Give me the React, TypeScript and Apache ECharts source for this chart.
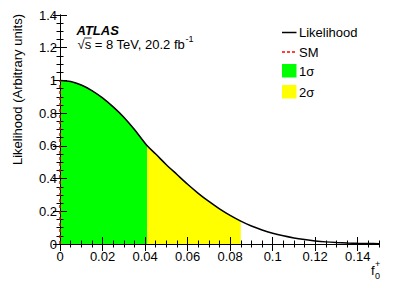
import React, { useEffect, useRef } from "react";
import * as echarts from "echarts";

const xValues = [
  0, 0.005, 0.01, 0.015, 0.02, 0.025, 0.03, 0.035, 0.041, 0.045, 0.05, 0.055,
  0.06, 0.065, 0.07, 0.075, 0.08, 0.085, 0.09, 0.095, 0.1, 0.105, 0.11, 0.115,
  0.12, 0.125, 0.13, 0.135, 0.14, 0.145, 0.15,
];
const likelihood = [
  1.0, 0.993, 0.972, 0.938, 0.893, 0.838, 0.775, 0.7, 0.6, 0.55, 0.485, 0.425,
  0.365, 0.31, 0.26, 0.215, 0.175, 0.14, 0.11, 0.086, 0.066, 0.05, 0.037, 0.027,
  0.019, 0.013, 0.009, 0.006, 0.004, 0.003, 0.002,
];
const oneSigmaMax = 0.041;
const twoSigmaMax = 0.085;
const smX = [0, 0];
const smY = [0, 1];
const xMajorTicks = [0, 0.02, 0.04, 0.06, 0.08, 0.1, 0.12, 0.14];
const yMajorTicks = [0, 0.2, 0.4, 0.6, 0.8, 1, 1.2, 1.4];
const legendLabels = ["Likelihood", "SM", "1σ", "2σ"];

const FONT = "Liberation Sans, Arial, Helvetica, sans-serif";

function minorList(max: number, step: number, major: number) {
  const out: number[] = [];
  for (let i = 0; i * step <= max + 1e-9; i++) {
    const v = +(i * step).toFixed(4);
    if (Math.abs(v / major - Math.round(v / major)) > 1e-6) out.push(v);
  }
  return out;
}

export default function App() {
  const ref = useRef<HTMLDivElement>(null);
  useEffect(() => {
    if (!ref.current) return;
    document.body.style.margin = "0";
    const chart = echarts.init(ref.current, null, { renderer: "svg" });
    const pts = xValues.map((x, i) => [x, likelihood[i]]);
    const green = pts.filter((p) => p[0] <= oneSigmaMax + 1e-9);
    const yellow = pts.filter((p) => p[0] >= oneSigmaMax - 1e-9 && p[0] <= twoSigmaMax + 1e-9);
    const xMinor = minorList(0.15, 0.005, 0.02);
    const yMinor = minorList(1.4, 0.05, 0.2);

    const canvas = document.createElement("canvas");
    const ctx = canvas.getContext("2d")!;
    ctx.font = "13px " + FONT;
    const mainText = "√s = 8 TeV, 20.2 fb";
    const mainW = ctx.measureText(mainText).width;
    const sqrtW = ctx.measureText("√").width;
    const sW = ctx.measureText("s").width;
    const fW = ctx.measureText("f").width;
    const textX = 77.5;

    const axisLine = { show: true, lineStyle: { color: "#000", width: 1 } };
    const baseX = { type: "value", min: 0, max: 0.15, gridIndex: 0, z: 10 };
    const baseY = { type: "value", min: 0, max: 1.4, gridIndex: 0, z: 10 };

    chart.setOption({
      animation: false,
      grid: { left: 60, right: 20, top: 15, bottom: 44 },
      xAxis: [
        {
          ...baseX,
          position: "bottom",
          interval: 0.02,
          axisLine,
          splitLine: { show: false },
          axisTick: { show: true, inside: true, length: 7, lineStyle: { color: "#000" }, customValues: xMajorTicks },
          axisLabel: {
            show: true,
            margin: 6,
            color: "#000",
            fontSize: 13,
            fontFamily: FONT,
            customValues: xMajorTicks,
            formatter: (v: number) => String(+v.toFixed(2)),
          },
        },
        {
          ...baseX,
          position: "bottom",
          axisLine: { show: false },
          splitLine: { show: false },
          axisLabel: { show: false },
          axisTick: { show: true, inside: true, length: 3.5, lineStyle: { color: "#000" }, customValues: xMinor },
        },
        {
          ...baseX,
          position: "top",
          axisLine,
          splitLine: { show: false },
          axisLabel: { show: false },
          axisTick: { show: true, inside: true, length: 7, lineStyle: { color: "#000" }, customValues: xMajorTicks },
        },
        {
          ...baseX,
          position: "top",
          axisLine: { show: false },
          splitLine: { show: false },
          axisLabel: { show: false },
          axisTick: { show: true, inside: true, length: 3.5, lineStyle: { color: "#000" }, customValues: xMinor },
        },
      ],
      yAxis: [
        {
          ...baseY,
          position: "left",
          interval: 0.2,
          axisLine,
          splitLine: { show: false },
          axisTick: { show: true, inside: true, length: 7, lineStyle: { color: "#000" }, customValues: yMajorTicks },
          axisLabel: {
            show: true,
            margin: 3,
            color: "#000",
            fontSize: 13,
            fontFamily: FONT,
            customValues: yMajorTicks,
            formatter: (v: number) => String(+v.toFixed(1)),
          },
        },
        {
          ...baseY,
          position: "left",
          axisLine: { show: false },
          splitLine: { show: false },
          axisLabel: { show: false },
          axisTick: { show: true, inside: true, length: 3.5, lineStyle: { color: "#000" }, customValues: yMinor },
        },
        {
          ...baseY,
          position: "right",
          axisLine,
          splitLine: { show: false },
          axisLabel: { show: false },
          axisTick: { show: true, inside: true, length: 7, lineStyle: { color: "#000" }, customValues: yMajorTicks },
        },
        {
          ...baseY,
          position: "right",
          axisLine: { show: false },
          splitLine: { show: false },
          axisLabel: { show: false },
          axisTick: { show: true, inside: true, length: 3.5, lineStyle: { color: "#000" }, customValues: yMinor },
        },
      ],
      series: [
        {
          name: "1σ",
          type: "line",
          data: green,
          symbol: "none",
          lineStyle: { width: 0 },
          areaStyle: { color: "#00ff00", opacity: 1 },
          z: 2,
        },
        {
          name: "2σ",
          type: "line",
          data: yellow,
          symbol: "none",
          lineStyle: { width: 0 },
          areaStyle: { color: "#ffff00", opacity: 1 },
          z: 2,
        },
        {
          name: "Likelihood",
          type: "line",
          data: pts,
          symbol: "none",
          smooth: 0.3,
          lineStyle: { color: "#000", width: 1.5 },
          z: 3,
        },
        {
          name: "SM",
          type: "line",
          data: smX.map((x, i) => [x, smY[i]]),
          symbol: "none",
          clip: false,
          lineStyle: { color: "#ff0000", width: 1.5, type: [3, 3] },
          z: 11,
        },
      ],
      graphic: [
        {
          type: "text",
          x: 17,
          y: 14,
          rotation: Math.PI / 2,
          style: {
            text: "Likelihood (Arbitrary units)",
            font: "13px " + FONT,
            fill: "#000",
            align: "right",
            verticalAlign: "middle",
          },
        },
        {
          type: "text",
          x: textX - 1,
          y: 30.5,
          style: {
            text: "ATLAS",
            font: "italic bold 13px " + FONT,
            fill: "#000",
            align: "left",
            verticalAlign: "middle",
          },
        },
        {
          type: "text",
          x: textX,
          y: 44.5,
          style: { text: mainText, font: "13px " + FONT, fill: "#000", align: "left", verticalAlign: "middle" },
        },
        {
          type: "line",
          shape: { x1: textX + sqrtW - 0.5, y1: 38, x2: textX + sqrtW + sW + 0.5, y2: 38 },
          style: { stroke: "#000", lineWidth: 0.8 },
        },
        {
          type: "text",
          x: textX + mainW + 0.5,
          y: 39,
          style: { text: "-1", font: "9px " + FONT, fill: "#000", align: "left", verticalAlign: "middle" },
        },
        {
          type: "line",
          shape: { x1: 282, y1: 32.5, x2: 296.5, y2: 32.5 },
          style: { stroke: "#000", lineWidth: 1.5 },
        },
        {
          type: "text",
          x: 299,
          y: 32,
          style: { text: legendLabels[0], font: "13px " + FONT, fill: "#000", align: "left", verticalAlign: "middle" },
        },
        {
          type: "line",
          shape: { x1: 282, y1: 52, x2: 296.5, y2: 52 },
          style: { stroke: "#ff0000", lineWidth: 1.5, lineDash: [3, 2] },
        },
        {
          type: "text",
          x: 299,
          y: 52,
          style: { text: legendLabels[1], font: "13px " + FONT, fill: "#000", align: "left", verticalAlign: "middle" },
        },
        {
          type: "rect",
          shape: { x: 282, y: 64, width: 14.5, height: 13.5 },
          style: { fill: "#00ff00" },
        },
        {
          type: "text",
          x: 299,
          y: 71,
          style: { text: legendLabels[2], font: "13px " + FONT, fill: "#000", align: "left", verticalAlign: "middle" },
        },
        {
          type: "rect",
          shape: { x: 282, y: 85, width: 14.5, height: 13.5 },
          style: { fill: "#ffff00" },
        },
        {
          type: "text",
          x: 299,
          y: 92,
          style: { text: legendLabels[3], font: "13px " + FONT, fill: "#000", align: "left", verticalAlign: "middle" },
        },
        {
          type: "text",
          x: 371,
          y: 270,
          style: { text: "f", font: "13px " + FONT, fill: "#000", align: "left", verticalAlign: "middle" },
        },
        {
          type: "text",
          x: 371 + fW + 0.5,
          y: 263.5,
          style: { text: "+", font: "9px " + FONT, fill: "#000", align: "left", verticalAlign: "middle" },
        },
        {
          type: "text",
          x: 371 + fW + 0.5,
          y: 276,
          style: { text: "0", font: "9px " + FONT, fill: "#000", align: "left", verticalAlign: "middle" },
        },
      ],
    });
    return () => chart.dispose();
  }, []);
  return <div ref={ref} style={{ width: 399, height: 288 }} />;
}
